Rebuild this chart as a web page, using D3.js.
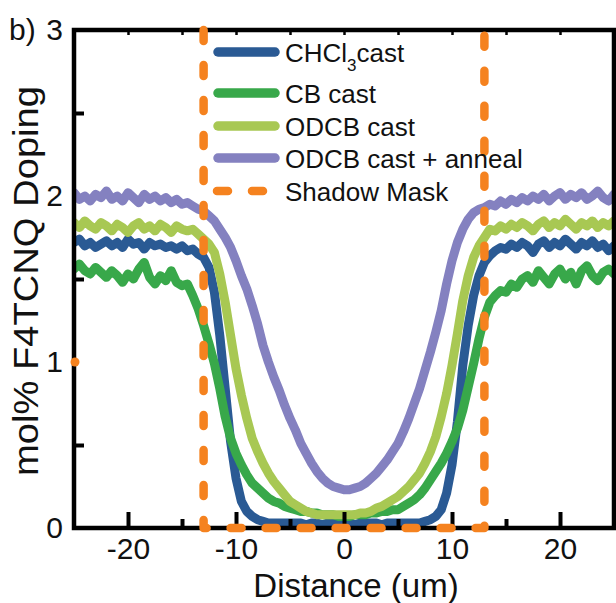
<!DOCTYPE html>
<html>
<head>
<meta charset="utf-8">
<script src="https://cdn.jsdelivr.net/npm/d3@7"></script>
<style>
  html, body { margin: 0; padding: 0; background: #fff; }
  svg { display: block; }
  text { font-family: "Liberation Sans", Arial, Helvetica, sans-serif; fill: #111; }
</style>
</head>
<body>
<svg id="chart" width="616" height="603"></svg>
<script>
// Sample positions across the film (um)
const distance = [
  -25, -24.5, -24, -23.5, -23, -22.5, -22, -21.5, -21, -20.5,
  -20, -19.5, -19, -18.5, -18, -17.5, -17, -16.5, -16, -15.5,
  -15, -14.5, -14, -13.5, -13, -12.5, -12, -11.5, -11, -10.5,
  -10, -9.5, -9, -8.5, -8, -7.5, -7, -6.5, -6, -5.5,
  -5, -4.5, -4, -3.5, -3, -2.5, -2, -1.5, -1, -0.5,
  0, 0.5, 1, 1.5, 2, 2.5, 3, 3.5, 4, 4.5,
  5, 5.5, 6, 6.5, 7, 7.5, 8, 8.5, 9, 9.5,
  10, 10.5, 11, 11.5, 12, 12.5, 13, 13.5, 14, 14.5,
  15, 15.5, 16, 16.5, 17, 17.5, 18, 18.5, 19, 19.5,
  20, 20.5, 21, 21.5, 22, 22.5, 23, 23.5, 24, 24.5, 25
];

// mol% F4TCNQ doping profiles
const chcl3Cast = [
  1.72, 1.74, 1.70, 1.72, 1.69, 1.71, 1.73, 1.70, 1.72, 1.69,
  1.74, 1.71, 1.72, 1.68, 1.72, 1.70, 1.71, 1.69, 1.70, 1.68,
  1.70, 1.67, 1.68, 1.65, 1.63, 1.57, 1.42, 1.16, 0.84, 0.52,
  0.30, 0.16, 0.10, 0.07, 0.05, 0.04, 0.03, 0.03, 0.03, 0.03,
  0.03, 0.03, 0.03, 0.02, 0.03, 0.03, 0.02, 0.03, 0.03, 0.03,
  0.03, 0.03, 0.02, 0.03, 0.03, 0.03, 0.03, 0.02, 0.03, 0.03,
  0.03, 0.03, 0.03, 0.03, 0.03, 0.04, 0.05, 0.07, 0.11, 0.21,
  0.38, 0.64, 0.98, 1.22, 1.40, 1.52, 1.60, 1.64, 1.67, 1.69,
  1.68, 1.71, 1.69, 1.72, 1.70, 1.66, 1.71, 1.73, 1.69, 1.72,
  1.70, 1.74, 1.71, 1.68, 1.72, 1.70, 1.73, 1.69, 1.71, 1.67, 1.70
];
const cbCast = [
  1.56, 1.59, 1.55, 1.53, 1.57, 1.54, 1.51, 1.55, 1.52, 1.48,
  1.53, 1.50, 1.56, 1.60, 1.51, 1.47, 1.52, 1.49, 1.55, 1.48,
  1.46, 1.47, 1.40, 1.32, 1.22, 1.11, 0.99, 0.84, 0.67, 0.54,
  0.45, 0.38, 0.32, 0.27, 0.24, 0.21, 0.18, 0.16, 0.15, 0.13,
  0.12, 0.11, 0.10, 0.10, 0.09, 0.09, 0.08, 0.08, 0.08, 0.07,
  0.07, 0.07, 0.08, 0.08, 0.08, 0.09, 0.09, 0.10, 0.10, 0.11,
  0.11, 0.13, 0.15, 0.17, 0.20, 0.24, 0.29, 0.34, 0.39, 0.45,
  0.52, 0.60, 0.71, 0.85, 0.99, 1.14, 1.27, 1.36, 1.40, 1.43,
  1.42, 1.47, 1.45, 1.50, 1.52, 1.48, 1.55, 1.51, 1.47, 1.53,
  1.56, 1.50, 1.54, 1.47, 1.55, 1.58, 1.52, 1.49, 1.54, 1.56, 1.53
];
const odcbCast = [
  1.84, 1.81, 1.85, 1.82, 1.80, 1.84, 1.82, 1.79, 1.83, 1.81,
  1.78, 1.82, 1.84, 1.80, 1.82, 1.79, 1.83, 1.81, 1.78, 1.82,
  1.80, 1.79, 1.80, 1.77, 1.74, 1.71, 1.66, 1.53, 1.36, 1.16,
  0.96, 0.80, 0.66, 0.54, 0.46, 0.39, 0.33, 0.28, 0.24, 0.20,
  0.16, 0.14, 0.12, 0.10, 0.09, 0.08, 0.08, 0.08, 0.08, 0.08,
  0.08, 0.08, 0.08, 0.09, 0.09, 0.10, 0.12, 0.13, 0.15, 0.17,
  0.19, 0.22, 0.25, 0.29, 0.33, 0.39, 0.46, 0.55, 0.67, 0.81,
  0.98, 1.17, 1.37, 1.52, 1.63, 1.70, 1.75, 1.80, 1.79, 1.82,
  1.80, 1.83, 1.81, 1.84, 1.82, 1.79, 1.83, 1.85, 1.81, 1.84,
  1.82, 1.86, 1.83, 1.80, 1.84, 1.82, 1.85, 1.81, 1.84, 1.82, 1.85
];
const odcbAnneal = [
  2.02, 1.98, 2.00, 1.97, 2.01, 1.99, 2.03, 1.98, 2.00, 1.97,
  2.02, 1.99, 1.96, 2.01, 1.98, 2.00, 1.97, 1.99, 1.96, 1.98,
  1.95, 1.96, 1.94, 1.92, 1.91, 1.88, 1.85, 1.80, 1.75, 1.69,
  1.61, 1.52, 1.44, 1.34, 1.23, 1.10, 1.00, 0.91, 0.83, 0.74,
  0.66, 0.59, 0.51, 0.45, 0.39, 0.34, 0.30, 0.27, 0.25, 0.24,
  0.23, 0.23, 0.24, 0.25, 0.27, 0.30, 0.33, 0.37, 0.41, 0.46,
  0.51, 0.58, 0.66, 0.75, 0.84, 0.95, 1.06, 1.18, 1.31, 1.47,
  1.61, 1.72, 1.80, 1.86, 1.90, 1.92, 1.93, 1.95, 1.94, 1.97,
  1.95, 1.98, 1.96, 1.99, 1.97, 2.00, 1.98, 2.01, 1.97, 2.00,
  2.02, 1.98, 2.01, 1.99, 2.02, 1.98, 2.00, 2.03, 1.99, 1.97, 2.01
];

// Shadow mask outline: opening edges (um) and doping level (0 inside, top of axis outside)
const maskX = [-13, -13, 13, 13];
const maskY = [3, 0, 0, 3];

const seriesNames = ["CHCl3cast", "CB cast", "ODCB cast", "ODCB cast + anneal", "Shadow Mask"];
const seriesColors = ["#2a5a94", "#38a84a", "#a8c853", "#8481c0", "#f5821f"];

const xTicksMajor = [-20, -10, 0, 10, 20];
const xTicksMinor = [-15, -5, 5, 15];
const yTicksMajor = [0, 1, 2, 3];
const yTicksMinor = [0.5, 1.5, 2.5];

const svg = d3.select("#chart");
const L = 74, R = 614, T = 30, B = 528;

const x = d3.scaleLinear().domain([-25, 25]).range([L, R]);
const y = d3.scaleLinear().domain([0, 3]).range([B, T]);

svg.append("defs").append("clipPath").attr("id", "plotClip")
  .append("rect").attr("x", L).attr("y", 0).attr("width", R - L).attr("height", 603);

// Doping curves
const curves = [chcl3Cast, cbCast, odcbCast, odcbAnneal];
const line = d3.line().x((d, i) => x(distance[i])).y(d => y(d));

const plot = svg.append("g").attr("clip-path", "url(#plotClip)");
curves.forEach((vals, k) => {
  plot.append("path")
    .datum(vals)
    .attr("d", line)
    .attr("fill", "none")
    .attr("stroke", seriesColors[k])
    .attr("stroke-width", 9)
    .attr("stroke-linejoin", "round")
    .attr("stroke-linecap", "round");
});

// Axes with inward ticks
const fmt = d => d3.format("d")(d).replace("\u2212", "-");

const xAxis = svg.append("g").attr("transform", `translate(0,${B})`)
  .call(d3.axisBottom(x).tickValues(xTicksMajor).tickSizeInner(-16).tickSizeOuter(0).tickPadding(10).tickFormat(fmt));
const xMinor = svg.append("g").attr("transform", `translate(0,${B})`)
  .call(d3.axisBottom(x).tickValues(xTicksMinor).tickSizeInner(-9).tickSizeOuter(0).tickFormat(""));
const xTop = svg.append("g").attr("transform", `translate(0,${T})`)
  .call(d3.axisTop(x).tickValues(xTicksMajor.concat(xTicksMinor)).tickSizeInner(-5).tickSizeOuter(0).tickFormat(""));
const yAxis = svg.append("g").attr("transform", `translate(${L},0)`)
  .call(d3.axisLeft(y).tickValues(yTicksMajor).tickSizeInner(0).tickSizeOuter(0).tickPadding(11).tickFormat(fmt));
const yMinor = svg.append("g").attr("transform", `translate(${L},0)`)
  .call(d3.axisLeft(y).tickValues(yTicksMinor).tickSizeInner(-10).tickSizeOuter(0).tickFormat(""));

[xAxis, xMinor, xTop, yAxis, yMinor].forEach(g => {
  g.select(".domain").remove();
  g.selectAll(".tick line").attr("stroke", "#000").attr("stroke-width", 4);
  g.selectAll(".tick text").attr("fill", "#111").style("font-size", "30px")
    .style("font-family", "'Liberation Sans', Arial, sans-serif");
});
xTop.selectAll(".tick line").attr("stroke-width", 2.5);

// Plot frame
svg.append("rect")
  .attr("x", L).attr("y", T).attr("width", R - L).attr("height", B - T)
  .attr("fill", "none").attr("stroke", "#000").attr("stroke-width", 4.5);

// Small orange marker on the y axis at 1
svg.append("circle").attr("cx", x(-25) + 1).attr("cy", y(1)).attr("r", 4.5).attr("fill", seriesColors[4]);

// Shadow mask (dashed, drawn over the curves)
const maskLine = d3.line().x(d => x(d[0])).y(d => y(d[1]));
svg.append("path")
  .datum(maskX.map((v, i) => [v, maskY[i]]))
  .attr("d", maskLine)
  .attr("fill", "none")
  .attr("stroke", seriesColors[4])
  .attr("stroke-width", 8.5)
  .attr("stroke-linecap", "round")
  .attr("stroke-linejoin", "round")
  .attr("stroke-dasharray", "11 24");

// Legend
const legendRows = [52, 93, 126, 158, 191];
const legend = svg.append("g");
seriesNames.forEach((name, k) => {
  const cy = legendRows[k];
  const ln = legend.append("line")
    .attr("x1", 218).attr("x2", k === 4 ? 263 : 275)
    .attr("y1", cy).attr("y2", cy)
    .attr("stroke", seriesColors[k])
    .attr("stroke-width", k === 4 ? 8.5 : 9.5)
    .attr("stroke-linecap", "round");
  if (k === 4) ln.attr("x1", 217).attr("stroke-dasharray", "11 24");
  const t = legend.append("text").attr("x", 285).attr("y", cy + 9.5).style("font-size", "26px");
  if (k === 0) {
    t.append("tspan").text("CHCl");
    t.append("tspan").attr("dy", 9).style("font-size", "17px").text("3");
    t.append("tspan").attr("dy", -9).text("cast");
  } else {
    t.text(name);
  }
});

// Titles
svg.append("text").attr("x", 356).attr("y", 597).attr("text-anchor", "middle")
  .style("font-size", "33px").text("Distance (um)");
svg.append("text")
  .attr("transform", `translate(38,${(T + B) / 2 + 2}) rotate(-90)`)
  .attr("text-anchor", "middle")
  .attr("textLength", 390).attr("lengthAdjust", "spacingAndGlyphs")
  .style("font-size", "35px").text("mol% F4TCNQ Doping");
svg.append("text").attr("x", 9).attr("y", 40).style("font-size", "30px").text("b)");
</script>
</body>
</html>
